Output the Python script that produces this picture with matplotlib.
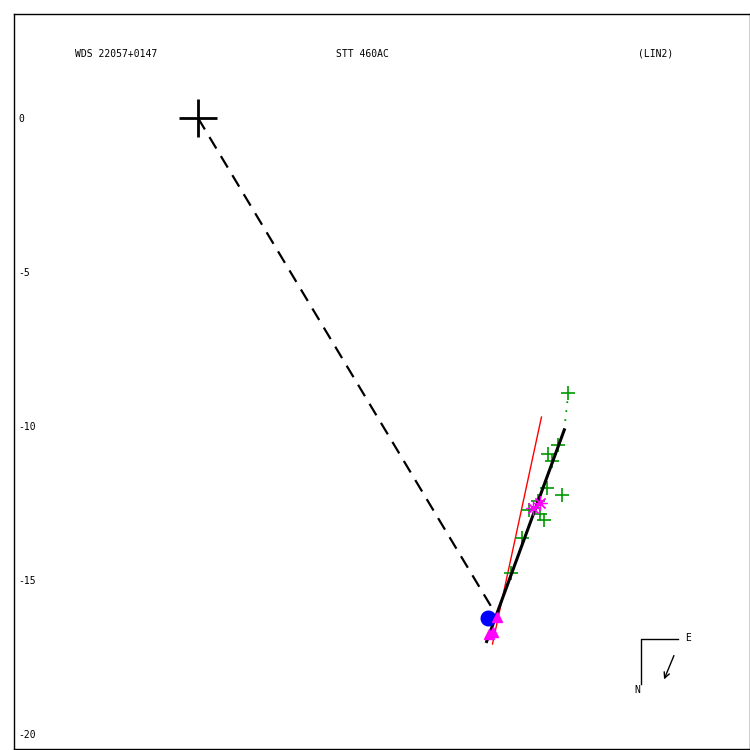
import matplotlib
matplotlib.use("Agg")
import matplotlib.pyplot as plt

# ---- data (arcsec offsets) ----
primary = (0.0, 0.0)
dash_end = (9.58, -15.97)
orbit_x = [9.37, 11.89]
orbit_y = [-17.00, -10.13]
red_x = [9.56, 11.15]
red_y = [-17.08, -9.71]
dot_x = [11.89, 12.02]
dot_y = [-10.13, -8.94]
green_x = [12.02, 11.70, 11.37, 11.50, 11.32, 11.81, 11.04, 10.75, 11.10, 11.23, 10.53, 10.15]
green_y = [-8.94, -10.62, -10.91, -11.14, -12.02, -12.24, -12.43, -12.73, -12.86, -13.05, -13.63, -14.78]
star_x = [11.10, 10.88]
star_y = [-12.51, -12.66]
tri_x = [9.71, 9.58, 9.45]
tri_y = [-16.20, -16.69, -16.75]
blue_x = [9.43]
blue_y = [-16.23]
yticks = [0, -5, -10, -15, -20]
ytick_labels = ["0", "-5", "-10", "-15", "-20"]
title_left = "WDS 22057+0147"
title_mid = "STT 460AC"
title_right = "(LIN2)"

fig = plt.figure(figsize=(7.5, 7.5), dpi=100)
W = H = 750.0
ax = fig.add_axes([14 / W, 1 / H, 736 / W, 735 / H])
ax.set_xlim(-5.974, 17.92)
ax.set_ylim(-20.49, 3.377)
ax.set_xticks([])
ax.set_yticks(yticks)
ax.set_yticklabels(ytick_labels, family="DejaVu Sans Mono", fontsize=7)
ax.tick_params(axis="y", direction="in", length=0, pad=-3)
for lab in ax.get_yticklabels():
    lab.set_horizontalalignment("left")
for s in ax.spines.values():
    s.set_linewidth(1)

# dashed line primary -> companion
ax.plot([primary[0], dash_end[0]], [primary[1], dash_end[1]], color="black",
        lw=1.6, dashes=(6, 4), zorder=2)
# primary marker
ax.plot([primary[0]], [primary[1]], marker="+", ms=27, mew=2, color="black", zorder=3)

# orbit segments
ax.plot(red_x, red_y, color="red", lw=1, zorder=3)
ax.plot(dot_x, dot_y, color="#009900", lw=1.3, ls=(0, (1, 4)), zorder=3)
ax.plot(green_x, green_y, ls="none", marker="+", ms=10.5, mew=1.2, color="#009900", zorder=4)
ax.plot(orbit_x, orbit_y, color="black", lw=2.2, zorder=5)
ax.plot(star_x, star_y, ls="none", marker=(8, 2, 0), ms=10, mew=0.9, color="magenta", zorder=6)
ax.plot(blue_x, blue_y, ls="none", marker="o", ms=10.5, color="blue", mec="blue", zorder=6)
ax.plot(tri_x, tri_y, ls="none", marker="^", ms=7.5, color="magenta", mec="magenta", zorder=7)

# titles
mono = "DejaVu Sans Mono"
fig.text(75 / W, 1 - 54 / H, title_left, family=mono, fontsize=7, ha="left", va="center")
fig.text(336 / W, 1 - 54 / H, title_mid, family=mono, fontsize=7, ha="left", va="center")
fig.text(638 / W, 1 - 54 / H, title_right, family=mono, fontsize=7, ha="left", va="center")

# compass (figure pixel coordinates)
def fx(px):
    return px / W
def fy(py):
    return 1 - py / H
fig.add_artist(plt.Line2D([fx(640.5), fx(640.5), fx(677.5)], [fy(684), fy(639), fy(639)],
                          color="black", lw=1))
fig.text(fx(685), fy(638), "E", family=mono, fontsize=7, ha="left", va="center")
fig.text(fx(637), fy(690), "N", family=mono, fontsize=7, ha="center", va="center")
ax.annotate("", xy=(fx(663), fy(682)), xytext=(fx(675), fy(653)),
            xycoords="figure fraction", textcoords="figure fraction",
            arrowprops=dict(arrowstyle="->", lw=1, color="black", mutation_scale=10))

fig.savefig("out.png", dpi=100)
